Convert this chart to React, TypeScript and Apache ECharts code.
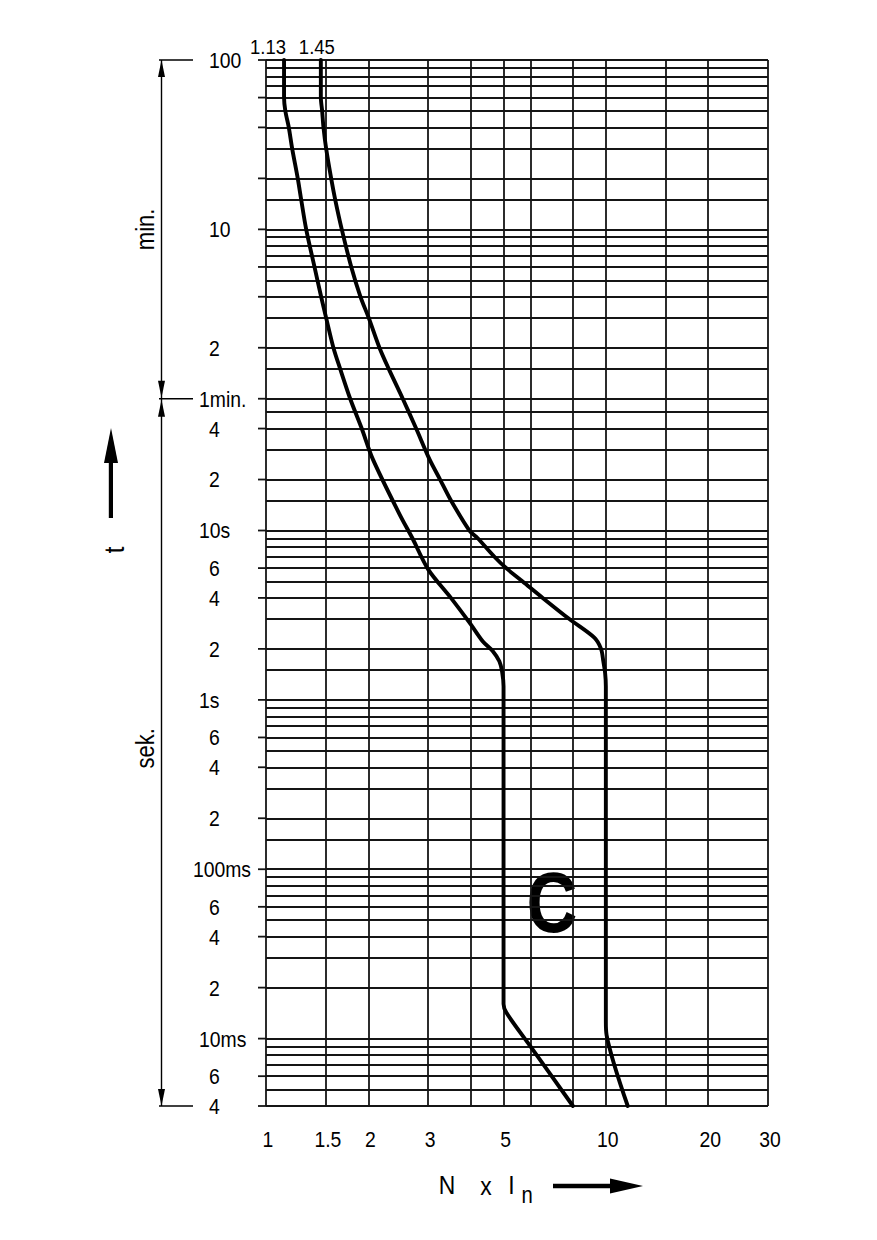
import React, { useEffect, useRef } from "react";
import * as echarts from "echarts";

// Multiples of rated current N x In
const currentGrid = [1, 1.5, 2, 3, 4, 5, 6, 8, 10, 15, 20, 30];
const currentTicks = [1, 1.5, 2, 3, 5, 10, 20, 30];
const currentTickLabels = ["1", "1.5", "2", "3", "5", "10", "20", "30"];

// Trip time grid: the upper part is ruled in minutes, the lower part in seconds
const minuteLines = [100, 90, 80, 70, 60, 50, 40, 30, 20, 15, 10, 9, 8, 7, 6, 5, 4, 3, 2, 1.5, 1];
const secondLines = [
  50, 40, 30, 20, 15, 10, 9, 8, 7, 6, 5, 4, 3, 2, 1.5, 1,
  0.9, 0.8, 0.7, 0.6, 0.5, 0.4, 0.3, 0.2, 0.15, 0.1,
  0.09, 0.08, 0.07, 0.06, 0.05, 0.04, 0.03, 0.02, 0.01,
  0.009, 0.008, 0.007, 0.006, 0.005, 0.004,
];
// Times (s) that get a short tick left of the frame
const timeTicks = [
  6000, 3600, 2400, 1200, 600, 360, 240, 120, 60, 40, 20, 10, 6, 4, 2, 1,
  0.6, 0.4, 0.2, 0.1, 0.06, 0.04, 0.02, 0.01, 0.006, 0.004,
];
const timeTickValues = [
  6000, 600, 120, 60, 40, 20, 10, 6, 4, 2, 1, 0.6, 0.4, 0.2, 0.1, 0.06, 0.04, 0.02, 0.01, 0.006, 0.004,
];
const timeTickLabels = [
  "100", "10", "2", "1min.", "4", "2", "10s", "6", "4", "2", "1s", "6", "4", "2", "100ms", "6", "4", "2", "10ms", "6", "4",
];

// Tripping characteristic C: [N x In, t in s]
const curveNames = ["1.13", "1.45"];
const lowerCurve = [
  [1.13, 6000], [1.13, 3600], [1.14, 3000], [1.167, 2400], [1.194, 1800], [1.24, 1200],
  [1.269, 900], [1.313, 600], [1.389, 360], [1.453, 240], [1.503, 180], [1.579, 120],
  [1.653, 90], [1.769, 60], [1.913, 40], [2.062, 26.4], [2.47, 12.5], [2.697, 9],
  [3, 5.9], [3.5, 4], [4, 2.8], [4.34, 2.22], [4.65, 1.94], [4.86, 1.69],
  [4.95, 1.47], [5, 1.2], [5, 0.016], [5.1, 0.0142], [6, 0.009], [8, 0.004],
];
const upperCurve = [
  [1.45, 6000], [1.45, 3600], [1.463, 3000], [1.476, 2400], [1.503, 1800], [1.555, 1200],
  [1.598, 900], [1.671, 600], [1.782, 360], [1.897, 240], [2.006, 180], [2.157, 120],
  [2.297, 90], [2.526, 60], [2.766, 40], [3.026, 26.4], [3.253, 20], [3.505, 15],
  [3.968, 10], [4.197, 9], [4.7, 7], [5.088, 6], [5.692, 5], [6.52, 4], [7.81, 3],
  [9.25, 2.33], [9.68, 2], [9.83, 1.69], [9.95, 1.44], [10, 1.2], [10, 0.0126],
  [10.05, 0.0105], [11.6, 0.004],
];

const FONT = "'Liberation Sans', Arial, sans-serif";
const NARROW = 0.88;
const X_MIN = 1;
const X_MAX = 30;
const T_MIN = 0.004;
const T_MAX = 6000;

let measureCtx: CanvasRenderingContext2D | null = null;
function textWidth(text: string, size: number) {
  if (!measureCtx) measureCtx = document.createElement("canvas").getContext("2d");
  if (!measureCtx) return text.length * size * 0.55 * NARROW;
  measureCtx.font = `${size}px ${FONT}`;
  return measureCtx.measureText(text).width * NARROW;
}

function txt(
  x: number,
  y: number,
  text: string,
  size: number,
  align = "center",
  extra: any = {},
  weight = "normal"
) {
  return {
    type: "text",
    x,
    y,
    silent: true,
    scaleX: NARROW,
    ...extra,
    style: {
      text,
      fill: "#000",
      fontSize: size,
      fontFamily: FONT,
      fontWeight: weight,
      align,
      textAlign: align,
      verticalAlign: "middle",
      textVerticalAlign: "middle",
    },
  };
}

export default function App() {
  const ref = useRef<HTMLDivElement>(null);

  useEffect(() => {
    const el = ref.current;
    if (!el) return;
    const chart = echarts.init(el, undefined, { renderer: "svg" });

    const timeLines = [...minuteLines.map((m) => m * 60), ...secondLines];
    const gridData = [
      ...timeLines.map((t) => ({ coords: [[X_MIN, t], [X_MAX, t]] })),
      ...currentGrid.map((x) => ({ coords: [[x, T_MIN], [x, T_MAX]] })),
    ];

    const curveLabelShift = [-16, -4];
    const curveStyle = { color: "#000", width: 3.9, join: "round", cap: "round" };

    chart.setOption({
      animation: false,
      backgroundColor: "#ffffff",
      grid: { left: 266, top: 60, right: 109, bottom: 134 },
      xAxis: {
        type: "log",
        logBase: 10,
        min: X_MIN,
        max: X_MAX,
        axisLine: { show: false },
        axisTick: { show: false },
        axisLabel: { show: false },
        splitLine: { show: false },
      },
      yAxis: {
        type: "log",
        logBase: 10,
        min: T_MIN,
        max: T_MAX,
        axisLine: { show: false },
        axisTick: { show: false },
        axisLabel: { show: false },
        splitLine: { show: false },
      },
      series: [
        {
          type: "lines",
          coordinateSystem: "cartesian2d",
          silent: true,
          clip: false,
          z: 1,
          lineStyle: { color: "#151515", width: 1.8, opacity: 1, type: "solid" },
          data: gridData,
        },
        {
          // short ticks left of the frame
          type: "custom",
          coordinateSystem: "cartesian2d",
          silent: true,
          clip: false,
          z: 1,
          data: timeTicks.map((t) => [X_MIN, t]),
          renderItem: (_params: any, api: any) => {
            const p = api.coord([api.value(0), api.value(1)]);
            return {
              type: "line",
              shape: { x1: p[0] - 8, y1: p[1], x2: p[0], y2: p[1] },
              style: { stroke: "#151515", lineWidth: 1.8 },
            };
          },
        },
        {
          // time labels
          type: "custom",
          coordinateSystem: "cartesian2d",
          silent: true,
          clip: false,
          data: timeTickValues.map((t) => [X_MIN, t]),
          renderItem: (params: any, api: any) => {
            const p = api.coord([api.value(0), api.value(1)]);
            const text = timeTickLabels[params.dataIndex];
            const numeric = /^[0-9]+$/.test(text);
            const w = textWidth(text, 22);
            const left = numeric ? p[0] - 57 : Math.min(p[0] - 67, p[0] - 15 - w);
            return txt(left, p[1], text, 22, "left");
          },
        },
        {
          // current labels
          type: "custom",
          coordinateSystem: "cartesian2d",
          silent: true,
          clip: false,
          data: currentTicks.map((x) => [x, T_MIN]),
          renderItem: (params: any, api: any) => {
            const p = api.coord([api.value(0), api.value(1)]);
            return txt(p[0] + 2, p[1] + 33, currentTickLabels[params.dataIndex], 22, "center");
          },
        },
        {
          // names at the top of both limit curves
          type: "custom",
          coordinateSystem: "cartesian2d",
          silent: true,
          clip: false,
          data: [lowerCurve[0], upperCurve[0]],
          renderItem: (params: any, api: any) => {
            const p = api.coord([api.value(0), api.value(1)]);
            return txt(p[0] + curveLabelShift[params.dataIndex], p[1] - 13, curveNames[params.dataIndex], 21, "center");
          },
        },
        {
          type: "line",
          data: lowerCurve,
          showSymbol: false,
          symbol: "none",
          silent: true,
          smooth: 0.3,
          z: 5,
          lineStyle: curveStyle,
        },
        {
          type: "line",
          data: upperCurve,
          showSymbol: false,
          symbol: "none",
          silent: true,
          smooth: 0.3,
          z: 5,
          lineStyle: curveStyle,
        },
      ],
    });

    const yTop = chart.convertToPixel({ gridIndex: 0 }, [X_MIN, T_MAX])[1];
    const yMin = chart.convertToPixel({ gridIndex: 0 }, [X_MIN, 60])[1];
    const yBot = chart.convertToPixel({ gridIndex: 0 }, [X_MIN, T_MIN])[1];
    const bx = 161.5;
    const ah = 17;
    const aw = 3.5;
    const arrowUp = (tipY: number) => ({
      type: "polygon",
      silent: true,
      shape: { points: [[bx, tipY], [bx - aw, tipY + ah], [bx + aw, tipY + ah]] },
      style: { fill: "#000" },
    });
    const arrowDown = (tipY: number) => ({
      type: "polygon",
      silent: true,
      shape: { points: [[bx, tipY], [bx - aw, tipY - ah], [bx + aw, tipY - ah]] },
      style: { fill: "#000" },
    });
    const hLine = (y: number) => ({
      type: "line",
      silent: true,
      shape: { x1: 159, y1: y, x2: 193, y2: y },
      style: { stroke: "#000", lineWidth: 1.4 },
    });

    chart.setOption({
      graphic: [
        hLine(yTop),
        hLine(yMin),
        hLine(yBot),
        {
          type: "line",
          silent: true,
          shape: { x1: bx, y1: yTop, x2: bx, y2: yBot },
          style: { stroke: "#000", lineWidth: 1.4 },
        },
        arrowUp(yTop),
        arrowDown(yMin - 1),
        arrowUp(yMin + 1),
        arrowDown(yBot),
        txt(146, (yTop + yMin) / 2, "min.", 25, "center", { rotation: Math.PI / 2 }),
        txt(146, (yMin + yBot) / 2 - 4, "sek.", 25, "center", { rotation: Math.PI / 2 }),
        // t axis title with its arrow
        txt(114, 550, "t", 27, "center", { rotation: Math.PI / 2 }),
        {
          type: "rect",
          silent: true,
          shape: { x: 108.8, y: 458, width: 4.2, height: 60 },
          style: { fill: "#000" },
        },
        {
          type: "polygon",
          silent: true,
          shape: { points: [[111, 428], [104, 463], [118, 463]] },
          style: { fill: "#000" },
        },
        // N x In title with its arrow
        txt(447, 1185, "N", 26, "center"),
        txt(486, 1186, "x", 26, "center"),
        txt(511.5, 1185, "I", 26, "center"),
        txt(527, 1195, "n", 23, "center"),
        {
          type: "rect",
          silent: true,
          shape: { x: 553, y: 1183.8, width: 60, height: 4.4 },
          style: { fill: "#000" },
        },
        {
          type: "polygon",
          silent: true,
          shape: { points: [[610, 1178.5], [643, 1186], [610, 1193.5]] },
          style: { fill: "#000" },
        },
        // characteristic letter
        txt(552, 902, "C", 86, "center", { scaleX: 0.82 }, "bold"),
      ],
    });

    return () => {
      chart.dispose();
    };
  }, []);

  return (
    <div
      ref={ref}
      style={{ position: "fixed", left: 0, top: 0, width: 877, height: 1240, background: "#fff" }}
    />
  );
}
